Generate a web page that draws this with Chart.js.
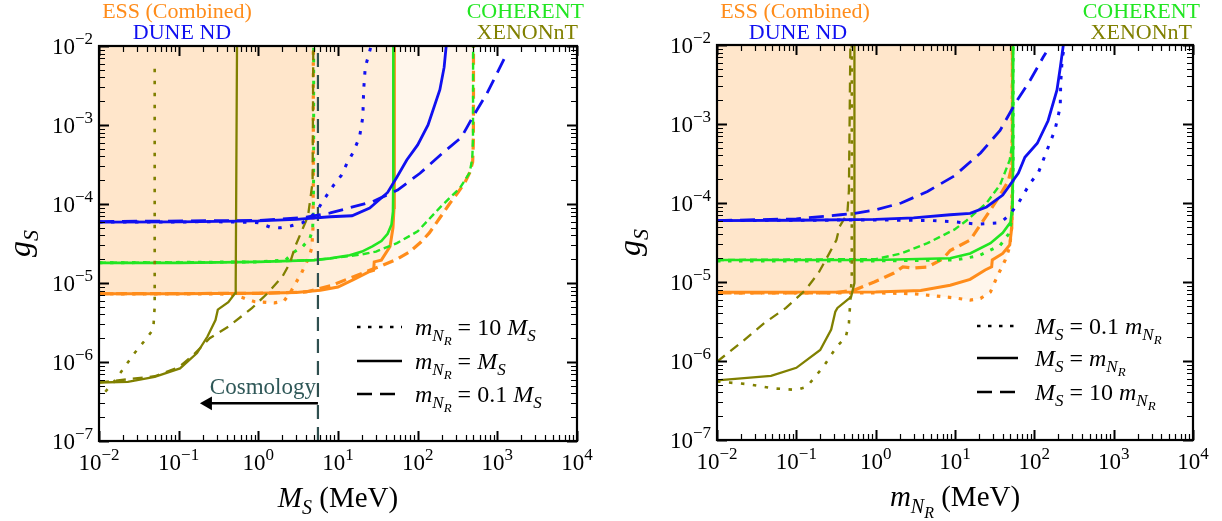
<!DOCTYPE html>
<html>
<head>
<meta charset="utf-8">
<script src="https://cdn.jsdelivr.net/npm/chart.js@4.4.1/dist/chart.umd.min.js"></script>
<style>
  html, body { margin: 0; padding: 0; background: #fff; }
  #wrap { position: relative; width: 1222px; height: 521px; }
  canvas { position: absolute; top: 0; }
</style>
</head>
<body>
<div id="wrap">
  <canvas id="chartLeft" width="611" height="521" style="left:0"></canvas>
  <canvas id="chartRight" width="611" height="521" style="left:611px"></canvas>
</div>
<script>
// ---- data (x in MeV, y = g_S) ----
const xDecades = [-2, -1, 0, 1, 2, 3, 4];
const yDecades = [-7, -6, -5, -4, -3, -2];
const experiments = ['ESS (Combined)', 'DUNE ND', 'COHERENT', 'XENONnT'];
const leftLegend = ['10', '', '0.1'];
const rightLegend = ['0.1', '', '10'];

// left panel: x = M_S
const leftEssDotted = [[0.01,7.3e-6],[0.3,7.3e-6],[0.5,7.1e-6],[0.7,6.3e-6],[0.9,5.8e-6],[1.6,5.6e-6],[2.1,5.9e-6],[2.6,8e-6],[3.5,1.35e-5],[4.3,2.1e-5],[4.7,2.8e-5],[4.85,5e-5],[4.9,2e-4],[4.9,1e-2]];
const leftEssSolid = [[0.01,7.3e-6],[0.1,7.3e-6],[1,7.4e-6],[3,7.6e-6],[6,8.1e-6],[10,8.9e-6],[15.6,1.1e-5],[25,1.4e-5],[28,1.45e-5],[28.5,1.85e-5],[35,1.95e-5],[45,2.9e-5],[49,5e-5],[50.5,9e-5],[51,3e-4],[51,1e-2]];
const leftEssDashed = [[0.01,7.3e-6],[1,7.4e-6],[4,7.7e-6],[8,9.2e-6],[14,1.15e-5],[25,1.45e-5],[35,1.65e-5],[55,2.0e-5],[80,2.5e-5],[110,3.3e-5],[140,4.3e-5],[200,7.2e-5],[250,1.0e-4],[320,1.4e-4],[390,1.85e-4],[450,2.5e-4],[490,3.4e-4],[500,6e-4],[502,1.5e-3],[502,1e-2]];
const leftCohDotted = [[0.01,1.8e-5],[1,1.85e-5],[2.2,1.95e-5],[2.7,2.4e-5],[3.6,2.9e-5],[4.4,3.6e-5],[4.8,4.7e-5],[4.9,8e-5],[4.95,3e-4],[4.95,1e-2]];
const leftCohSolid = [[0.01,1.8e-5],[0.1,1.8e-5],[1,1.85e-5],[5,1.95e-5],[8,2.05e-5],[14,2.25e-5],[20,2.5e-5],[27,2.9e-5],[35,3.4e-5],[42,4.2e-5],[47,5.5e-5],[49,8e-5],[49.5,2e-4],[49.5,1e-2]];
const leftCohDashed = [[0.01,1.8e-5],[1,1.85e-5],[5,1.95e-5],[10,2.1e-5],[20,2.3e-5],[30,2.5e-5],[55,3.2e-5],[100,4.5e-5],[190,9e-5],[340,1.6e-4],[450,2.5e-4],[485,3.8e-4],[495,7e-4],[497,1e-2]];
const leftDuneDotted = [[0.01,5.9e-5],[0.3,5.95e-5],[0.6,5.9e-5],[1,5.8e-5],[1.4,5.1e-5],[1.9,5e-5],[2.6,5.3e-5],[3.6,5.8e-5],[5.2,7.7e-5],[6.9,1.2e-4],[8.7,1.7e-4],[11,2.3e-4],[13,3.3e-4],[15.5,4.5e-4],[18.6,7e-4],[20.5,1.26e-3],[21,2.8e-3],[22,5.4e-3],[24.6,8.1e-3],[26,1e-2]];
const leftDuneSolid = [[0.01,5.9e-5],[0.1,5.95e-5],[1,6.1e-5],[3,6.4e-5],[8,6.9e-5],[15,7.1e-5],[25,8.9e-5],[42,1.4e-4],[55,2.2e-4],[73,3.6e-4],[100,5.6e-4],[135,1e-3],[190,2.8e-3],[215,5.4e-3],[228,1e-2]];
const leftDuneDashed = [[0.01,6e-5],[1,6.2e-5],[4,6.8e-5],[8,7.7e-5],[27,1.07e-4],[56,1.5e-4],[107,2.45e-4],[210,4.5e-4],[355,7e-4],[490,1.26e-3],[740,2.5e-3],[1230,7e-3],[1300,7.6e-3]];
const leftXenonDotted = [[0.012,4.2e-7],[0.016,5.9e-7],[0.021,8.7e-7],[0.028,1.3e-6],[0.038,1.9e-6],[0.048,2.6e-6],[0.05,5e-6],[0.05,6.6e-3]];
const leftXenonSolid = [[0.01,5.5e-7],[0.023,5.6e-7],[0.05,6.5e-7],[0.104,8.3e-7],[0.17,1.3e-6],[0.23,2.1e-6],[0.29,3.4e-6],[0.31,4.6e-6],[0.42,5.7e-6],[0.51,7.4e-6],[0.52,1e-5],[0.54,1e-2]];
const leftXenonDashed = [[0.01,5.5e-7],[0.05,6.6e-7],[0.1,8.6e-7],[0.15,1.2e-6],[0.245,2e-6],[0.42,2.8e-6],[0.83,4.8e-6],[1.3,7.4e-6],[2.0,1.2e-5],[2.5,1.8e-5],[2.9,2.9e-5],[4.2,7e-5],[4.8,1.9e-4],[4.9,1e-2]];
const cosmologyBound = [[5.6,1e-7],[5.6,1e-2]];
const cosmologyArrow = [[0.233,3e-7],[5.6,3e-7]];

// right panel: x = m_NR
const rightEssDotted = [[0.01,7.3e-6],[1,7.3e-6],[3,7.1e-6],[9.8,6.3e-6],[15.5,5.9e-6],[21,6.2e-6],[28,7.5e-6],[34,1.17e-5],[43,1.9e-5],[49,2.8e-5],[52,5e-5],[53,1e-2]];
const rightEssSolid = [[0.01,7.4e-6],[1,7.45e-6],[3.7,7.8e-6],[8.7,9.1e-6],[15.5,1.08e-5],[24,1.42e-5],[29,1.56e-5],[29.5,1.9e-5],[40,2.3e-5],[49,2.95e-5],[52,5e-5],[53,1.2e-4],[53,1e-2]];
const rightEssDashed = [[0.01,7.3e-6],[0.3,7.3e-6],[0.54,7.9e-6],[0.96,1e-5],[1.7,1.3e-5],[2.2,1.55e-5],[3,1.5e-5],[4.5,1.55e-5],[7,1.95e-5],[8.7,2.5e-5],[15.5,3.4e-5],[22,5.7e-5],[34,1.1e-4],[47,1.9e-4],[52,2.9e-4],[53,6e-4],[53,1e-2]];
const rightCohDotted = [[0.01,1.85e-5],[1,1.85e-5],[10,1.9e-5],[20,2.15e-5],[37,2.9e-5],[47,4e-5],[52,6e-5],[54,2e-4],[54,1e-2]];
const rightCohSolid = [[0.01,1.9e-5],[1,1.9e-5],[8.7,2e-5],[15.5,2.3e-5],[28,3.1e-5],[40,4.2e-5],[50,5.7e-5],[53,9e-5],[54,3e-4],[54,1e-2]];
const rightCohDashed = [[0.01,1.9e-5],[1,1.95e-5],[2.1,2.3e-5],[4.5,3.1e-5],[9.8,4.6e-5],[14,6e-5],[25,1e-4],[37,1.7e-4],[49,3.5e-4],[53,6e-4],[54,1e-2]];
const rightDuneDotted = [[0.01,6e-5],[1,6.1e-5],[5,6e-5],[9.5,5.8e-5],[19,5.4e-5],[37,5.6e-5],[49,7.1e-5],[63,1e-4],[89,1.8e-4],[112,2.4e-4],[145,4.7e-4],[182,8.4e-4],[212,1.65e-3],[215,3.3e-3],[225,7e-3],[245,1e-2]];
const rightDuneSolid = [[0.01,6e-5],[0.1,6.05e-5],[1,6.2e-5],[3,6.5e-5],[8.7,7.1e-5],[15.5,7.4e-5],[25,8.9e-5],[40,1.26e-4],[63,2.4e-4],[76,3.8e-4],[109,5.7e-4],[149,1.1e-3],[193,2.7e-3],[213,5.3e-3],[232,1e-2]];
const rightDuneDashed = [[0.01,6e-5],[0.1,6.3e-5],[0.36,7.1e-5],[0.54,7.4e-5],[0.96,8.1e-5],[2.1,1e-4],[4.5,1.4e-4],[9.8,2.2e-4],[21,4.3e-4],[37,8.3e-4],[58,1.85e-3],[89,3.6e-3],[129,7e-3],[140,8e-3]];
const rightXenonDotted = [[0.01,5.5e-7],[0.024,5.1e-7],[0.052,4.5e-7],[0.1,4.3e-7],[0.135,4.7e-7],[0.22,8.5e-7],[0.32,1.5e-6],[0.42,2e-6],[0.46,3e-6],[0.48,5.9e-6],[0.5,1.2e-5],[0.5,1e-2]];
const rightXenonSolid = [[0.01,5.7e-7],[0.048,6.5e-7],[0.1,8.2e-7],[0.2,1.38e-6],[0.275,2.5e-6],[0.31,4.2e-6],[0.33,4.7e-6],[0.49,6.5e-6],[0.54,9.7e-6],[0.54,1e-2]];
const rightXenonDashed = [[0.01,9.8e-7],[0.02,1.7e-6],[0.039,3e-6],[0.074,4.7e-6],[0.13,7.9e-6],[0.19,1.3e-5],[0.26,2.3e-5],[0.32,3.4e-5],[0.35,5e-5],[0.44,7.4e-5],[0.46,1.45e-4],[0.48,1e-2]];

// ---- styles ----
const ORANGE = '#ff8c1a', GREEN = '#22e622', BLUE = '#1010f0', OLIVE = '#808000', SLATE = '#2f4f4f';
const FILL = 'rgba(255,140,0,0.075)';
const FAM = '"Liberation Serif", "DejaVu Serif", serif';

function ds(points, color, width, dash, fill, extra) {
  return Object.assign({
    data: points.map(p => ({ x: p[0], y: p[1] })),
    borderColor: color,
    borderWidth: width,
    borderDash: dash,
    borderCapStyle: 'butt',
    pointRadius: 0,
    tension: 0,
    fill: fill ? 'end' : false,
    backgroundColor: fill ? FILL : 'transparent'
  }, extra || {});
}
const DOT = [3.5, 7.5], DOT_B = [3.5, 8.5];

const STY = {
  r: { s: 1, dy: 0, it: false },
  i: { s: 1, dy: 0, it: true },
  i1: { s: 0.7, dy: 0.24, it: true },
  i2: { s: 0.55, dy: 0.42, it: true },
  p: { s: 0.72, dy: -0.42, it: false }
};
function rich(ctx, parts, x, y, size, align, color) {
  const font = st => (st.it ? 'italic ' : '') + Math.round(size * st.s) + 'px ' + FAM;
  let w = 0;
  for (const [t, k] of parts) { ctx.font = font(STY[k]); w += ctx.measureText(t).width; }
  let cx = align === 'center' ? x - w / 2 : align === 'right' ? x - w : x;
  ctx.fillStyle = color; ctx.textAlign = 'left'; ctx.textBaseline = 'alphabetic';
  for (const [t, k] of parts) {
    const st = STY[k];
    ctx.font = font(st);
    ctx.fillText(t, cx, y + st.dy * size);
    cx += ctx.measureText(t).width;
  }
}
const pow = d => [['10', 'r'], [(d < 0 ? '\u2212' : '') + Math.abs(d), 'p']];

const framePlugin = {
  id: 'frame',
  afterDatasetsDraw(chart, args, o) {
    const { ctx, chartArea: a, scales: { x, y } } = chart;
    ctx.save();
    ctx.strokeStyle = '#000';
    // minor + major ticks on all four sides, pointing inward
    for (const d of xDecades) {
      for (let m = 1; m <= 9; m++) {
        const v = m * Math.pow(10, d);
        if (v > 1.0001e4) break;
        const px = Math.round(x.getPixelForValue(v)) + 0.5;
        const L = m === 1 ? 10 : 6;
        ctx.lineWidth = m === 1 ? 2 : 1.2;
        ctx.beginPath();
        ctx.moveTo(px, a.bottom); ctx.lineTo(px, a.bottom - L);
        ctx.moveTo(px, a.top); ctx.lineTo(px, a.top + L);
        ctx.stroke();
      }
    }
    for (const d of yDecades) {
      for (let m = 1; m <= 9; m++) {
        const v = m * Math.pow(10, d);
        if (v > 1.0001e-2) break;
        const py = Math.round(y.getPixelForValue(v)) + 0.5;
        const L = m === 1 ? 10 : 6;
        ctx.lineWidth = m === 1 ? 2 : 1.2;
        ctx.beginPath();
        ctx.moveTo(a.left, py); ctx.lineTo(a.left + L, py);
        ctx.moveTo(a.right, py); ctx.lineTo(a.right - L, py);
        ctx.stroke();
      }
    }
    ctx.lineWidth = 2.2;
    ctx.strokeRect(a.left, a.top, a.right - a.left, a.bottom - a.top);

    for (const d of xDecades) rich(ctx, pow(d), x.getPixelForValue(Math.pow(10, d)), a.bottom + 29, 23, 'center', '#000');
    for (const d of yDecades) rich(ctx, pow(d), a.left - 6, y.getPixelForValue(Math.pow(10, d)) + 8, 23, 'right', '#000');

    rich(ctx, o.xTitle, (a.left + a.right) / 2, a.bottom + 66, 29, 'center', '#000');
    ctx.save();
    ctx.translate(o.yTitleX, (a.top + a.bottom) / 2);
    ctx.rotate(-Math.PI / 2);
    rich(ctx, [['g', 'i'], ['S', 'i1']], 0, 0, 32, 'center', '#000');
    ctx.restore();

    for (const t of o.names) rich(ctx, [[t.text, 'r']], t.x, t.y, 22, t.align, t.color);

    o.legend.forEach((row, i) => {
      const ly = o.legendY[i];
      ctx.strokeStyle = '#000';
      ctx.lineWidth = 2.6;
      ctx.setLineDash(row.dash);
      ctx.beginPath(); ctx.moveTo(o.legendX[0], ly); ctx.lineTo(o.legendX[1], ly); ctx.stroke();
      ctx.setLineDash([]);
      rich(ctx, row.parts, o.legendX[2], ly + 8, 24, 'left', '#000');
    });

    if (o.cosmo) {
      const cx = x.getPixelForValue(cosmologyBound[0][0]);
      const cy = y.getPixelForValue(cosmologyArrow[0][1]);
      rich(ctx, [['Cosmology', 'r']], cx - 2, cy - 9, 23, 'right', '#2f5858');
    }
    ctx.restore();
  }
};

function makeChart(id, datasets, padding, frame) {
  return new Chart(document.getElementById(id), {
    type: 'line',
    data: { datasets },
    options: {
      responsive: false,
      animation: false,
      devicePixelRatio: 1,
      layout: { padding },
      scales: {
        x: { type: 'logarithmic', min: 1e-2, max: 1e4, display: false },
        y: { type: 'logarithmic', min: 1e-7, max: 1e-2, display: false }
      },
      plugins: {
        legend: { display: false },
        tooltip: { enabled: false },
        filler: { drawTime: 'beforeDatasetsDraw' },
        frame
      }
    },
    plugins: [framePlugin]
  });
}

const mN = [['m', 'i'], ['N', 'i1'], ['R', 'i2']];
const MS = [['M', 'i'], ['S', 'i1']];

makeChart('chartLeft', [
  ds(cosmologyArrow, '#000', 2.4, [], false, { pointRadius: [8, 0], pointStyle: 'triangle', rotation: 270, pointBackgroundColor: '#000', pointBorderWidth: 0 }),
  ds(leftDuneSolid, BLUE, 2.8, []),
  ds(leftDuneDotted, BLUE, 3, DOT_B),
  ds(leftDuneDashed, BLUE, 2.8, [15, 8]),
  ds(leftXenonSolid, OLIVE, 2.3, []),
  ds(leftXenonDotted, OLIVE, 2.6, DOT_B),
  ds(leftXenonDashed, OLIVE, 2.3, [10, 7]),
  ds(cosmologyBound, SLATE, 2.2, [14, 8]),
  ds(leftCohSolid, GREEN, 2.6, []),
  ds(leftCohDotted, GREEN, 3, DOT),
  ds(leftCohDashed, GREEN, 2.4, [7, 4]),
  ds(leftEssSolid, ORANGE, 3, [], true),
  ds(leftEssDotted, ORANGE, 3.2, DOT, true),
  ds(leftEssDashed, ORANGE, 3.2, [11, 6], true)
], { left: 99, right: 34, top: 46, bottom: 80 }, {
  xTitle: [['M', 'i'], ['S', 'i1'], [' (MeV)', 'r']],
  yTitleX: 30,
  names: [
    { text: experiments[0], x: 177, y: 18, align: 'center', color: ORANGE },
    { text: experiments[1], x: 182, y: 39, align: 'center', color: BLUE },
    { text: experiments[2], x: 584, y: 18, align: 'right', color: GREEN },
    { text: experiments[3], x: 578, y: 39, align: 'right', color: OLIVE }
  ],
  legendX: [357, 402, 415],
  legendY: [327, 361, 394],
  legend: [
    { dash: [3.5, 7.5], parts: [...mN, [' = ' + leftLegend[0] + ' ', 'r'], ...MS] },
    { dash: [], parts: [...mN, [' = ', 'r'], ...MS] },
    { dash: [15, 8], parts: [...mN, [' = ' + leftLegend[2] + ' ', 'r'], ...MS] }
  ],
  cosmo: true
});

makeChart('chartRight', [
  ds(rightDuneSolid, BLUE, 2.8, []),
  ds(rightDuneDotted, BLUE, 3, DOT_B),
  ds(rightDuneDashed, BLUE, 2.8, [15, 8]),
  ds(rightXenonSolid, OLIVE, 2.3, []),
  ds(rightXenonDotted, OLIVE, 2.6, DOT_B),
  ds(rightXenonDashed, OLIVE, 2.3, [10, 7]),
  ds(rightCohSolid, GREEN, 2.6, []),
  ds(rightCohDotted, GREEN, 3, DOT),
  ds(rightCohDashed, GREEN, 2.4, [7, 4]),
  ds(rightEssSolid, ORANGE, 3, [], true),
  ds(rightEssDotted, ORANGE, 3.2, DOT, true),
  ds(rightEssDashed, ORANGE, 3.2, [11, 6], true)
], { left: 106, right: 29, top: 45, bottom: 81 }, {
  xTitle: [...mN, [' (MeV)', 'r']],
  yTitleX: 29,
  names: [
    { text: experiments[0], x: 184, y: 18, align: 'center', color: ORANGE },
    { text: experiments[1], x: 187, y: 39, align: 'center', color: BLUE },
    { text: experiments[2], x: 589, y: 18, align: 'right', color: GREEN },
    { text: experiments[3], x: 581, y: 39, align: 'right', color: OLIVE }
  ],
  legendX: [366, 407, 424],
  legendY: [326, 358, 392],
  legend: [
    { dash: [3.5, 7.5], parts: [...MS, [' = ' + rightLegend[0] + ' ', 'r'], ...mN] },
    { dash: [], parts: [...MS, [' = ', 'r'], ...mN] },
    { dash: [15, 8], parts: [...MS, [' = ' + rightLegend[2] + ' ', 'r'], ...mN] }
  ],
  cosmo: false
});
</script>
</body>
</html>
